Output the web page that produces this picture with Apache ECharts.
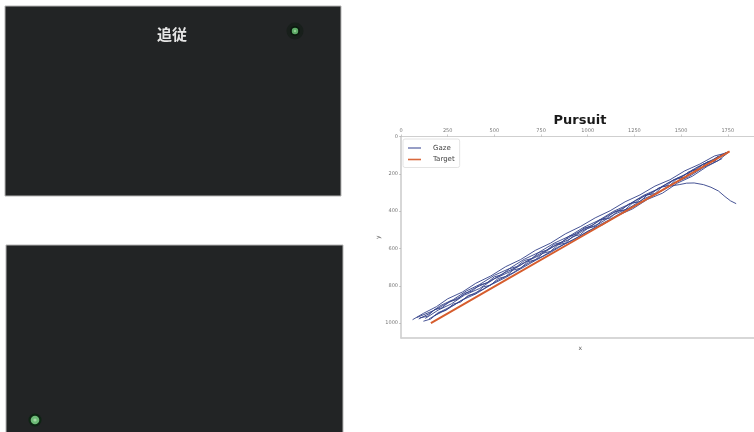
<!DOCTYPE html>
<html>
<head>
<meta charset="utf-8">
<script src="https://cdn.jsdelivr.net/npm/echarts@6/dist/echarts.min.js"></script>
<style>
  html, body { margin: 0; padding: 0; background: #ffffff; }
  #chart { width: 754px; height: 432px; }
</style>
</head>
<body>
<div id="chart"></div>
<script>
// Screen size in pixels (axis extents) and tick labels
const screenWidth = 1920;
const screenHeight = 1080;
const xTicks = [0, 250, 500, 750, 1000, 1250, 1500, 1750];
const yTicks = [0, 200, 400, 600, 800, 1000];

// Target dot trajectory [x, y]
const targetPath = [[160, 1000], [560, 770], [960, 540], [1360, 310], [1760, 80]];

// Recorded gaze passes [x, y]
const gazePass1 = [[62, 982], [120, 948], [190, 912], [250, 870], [330, 833], [400, 787], [480, 748], [560, 698],
  [640, 660], [720, 610], [800, 572], [880, 522], [960, 483], [1040, 436], [1120, 398], [1200, 350], [1280, 313],
  [1360, 266], [1440, 232], [1520, 184], [1600, 148], [1680, 104], [1745, 88]];
const gazePass2 = [[95, 978], [150, 950], [210, 907], [280, 874], [350, 828], [420, 794], [500, 744], [580, 708],
  [660, 658], [740, 620], [820, 572], [900, 535], [980, 486], [1060, 449], [1140, 400], [1220, 364], [1300, 315],
  [1380, 280], [1460, 232], [1540, 196], [1620, 148], [1700, 112], [1750, 82]];
const gazePass3 = [[130, 975], [200, 930], [270, 897], [340, 850], [420, 815], [500, 763], [580, 726], [660, 675],
  [740, 638], [820, 588], [900, 552], [980, 502], [1060, 468], [1140, 418], [1220, 384], [1300, 334], [1380, 300],
  [1460, 250], [1540, 216], [1620, 166], [1700, 128], [1755, 84]];
const gazePass4 = [[150, 978], [220, 935], [290, 900], [360, 856], [440, 818], [520, 770], [600, 730], [680, 680],
  [760, 641], [840, 593], [920, 556], [1000, 508], [1080, 473], [1160, 424], [1240, 388], [1320, 337], [1400, 304],
  [1480, 250], [1560, 213], [1640, 160], [1720, 118]];
const gazePass5 = [[85, 970], [170, 935], [240, 898], [310, 863], [390, 815], [470, 779], [550, 732], [630, 696],
  [710, 648], [790, 603], [870, 560], [950, 511], [1030, 472], [1110, 423], [1190, 383], [1270, 336], [1350, 296],
  [1430, 249], [1510, 210], [1590, 162], [1670, 124], [1740, 86]];
const gazePass6 = [[180, 960], [250, 925], [320, 880], [400, 844], [480, 796], [560, 756], [640, 710], [720, 664],
  [800, 622], [880, 574], [960, 533], [1040, 486], [1120, 444], [1200, 397], [1280, 356], [1360, 312], [1440, 266],
  [1490, 258], [1530, 250], [1570, 249], [1620, 258], [1660, 272], [1700, 292], [1735, 322], [1765, 345], [1795, 360]];
const gazePass7 = [[100, 972], [140, 964], [180, 928], [220, 918], [260, 884], [300, 874], [340, 840], [380, 829],
  [420, 796], [460, 785], [500, 752], [540, 741], [580, 709], [620, 697], [660, 665], [700, 654], [740, 621],
  [780, 610], [820, 578], [860, 567], [900, 534], [940, 523], [980, 491], [1020, 480], [1060, 448], [1100, 437],
  [1140, 405], [1180, 394], [1220, 362], [1260, 351], [1300, 319], [1340, 308], [1380, 276], [1420, 265],
  [1460, 233], [1500, 222], [1540, 190], [1580, 179], [1620, 147], [1660, 136], [1700, 104]];
const gazePass8 = [[120, 990], [160, 978], [200, 943], [240, 932], [280, 898], [320, 887], [360, 852], [400, 842],
  [440, 806], [480, 797], [520, 761], [560, 751], [600, 716], [640, 706], [680, 671], [720, 661], [760, 626],
  [800, 616], [840, 581], [880, 571], [920, 536], [960, 526], [1000, 491], [1040, 482], [1080, 446], [1120, 437],
  [1160, 401], [1200, 393], [1240, 357], [1280, 349], [1320, 312], [1360, 306], [1400, 268], [1440, 262],
  [1480, 224], [1520, 219], [1560, 180], [1600, 176], [1640, 136], [1680, 133], [1720, 94]];
const gazePasses = [gazePass1, gazePass2, gazePass3, gazePass4, gazePass5, gazePass6, gazePass7, gazePass8];

const gazeColor = '#33418a';
const targetColor = '#d65d2e';
const axisGray = '#cfcfcf';
const labelGray = '#777777';
const plainNumber = v => String(v);

const chart = echarts.init(document.getElementById('chart'), null, { renderer: 'canvas' });

const gazeSeries = gazePasses.map(pass => ({
  type: 'line',
  name: 'Gaze',
  data: pass,
  symbol: 'none',
  silent: true,
  z: 3,
  itemStyle: { color: gazeColor },
  lineStyle: { color: gazeColor, width: 1, opacity: 0.9 }
}));

const option = {
  animation: false,
  backgroundColor: '#ffffff',
  title: {
    text: 'Pursuit',
    left: 580,
    top: 114,
    textAlign: 'center',
    padding: 0,
    textStyle: { fontFamily: 'DejaVu Sans', fontWeight: 'bold', fontSize: 13, color: '#1a1a1a' }
  },
  legend: {
    data: [
      { name: 'Gaze', icon: 'rect', itemStyle: { color: '#7d86b8' } },
      { name: 'Target', icon: 'rect', itemStyle: { color: '#d9683c' } }
    ],
    left: 403,
    top: 139,
    orient: 'vertical',
    itemWidth: 13,
    itemHeight: 1.6,
    itemGap: 4.5,
    padding: [5.5, 5, 4.5, 5],
    backgroundColor: '#ffffff',
    borderColor: '#dddddd',
    borderWidth: 0.8,
    borderRadius: 2,
    textStyle: { fontFamily: 'DejaVu Sans', fontSize: 7, color: '#444444', padding: [0, 0, 0, 7] }
  },
  grid: {
    left: 401,
    top: 136.5,
    width: 358.5,
    height: 201.5,
    show: true,
    borderColor: '#dddddd',
    borderWidth: 1,
    outerBoundsMode: 'none',
    containLabel: false
  },
  xAxis: [
    {
      type: 'value',
      position: 'top',
      min: 0,
      max: screenWidth,
      splitLine: { show: false },
      axisLine: { show: true, lineStyle: { color: axisGray, width: 1.2 } },
      axisTick: { show: true, length: 2, customValues: xTicks, lineStyle: { color: '#aaaaaa', width: 0.6 } },
      axisLabel: { customValues: xTicks, formatter: plainNumber, margin: 3, fontSize: 5, color: labelGray, fontFamily: 'DejaVu Sans' }
    },
    {
      type: 'value',
      position: 'bottom',
      min: 0,
      max: screenWidth,
      name: 'x',
      nameLocation: 'middle',
      nameGap: 7,
      nameTextStyle: { fontSize: 6, color: '#555555', fontFamily: 'DejaVu Sans' },
      splitLine: { show: false },
      axisLine: { show: true, lineStyle: { color: axisGray, width: 1.5 } },
      axisTick: { show: false },
      axisLabel: { show: false }
    }
  ],
  yAxis: {
    type: 'value',
    inverse: true,
    min: 0,
    max: screenHeight,
    name: 'y',
    nameLocation: 'middle',
    nameGap: 15,
    nameRotate: 90,
    nameTextStyle: { fontSize: 6, color: '#555555', fontFamily: 'DejaVu Sans' },
    splitLine: { show: false },
    axisLine: { show: true, lineStyle: { color: axisGray, width: 1.5 } },
    axisTick: { show: true, length: 2, customValues: yTicks, lineStyle: { color: '#aaaaaa', width: 0.6 } },
    axisLabel: { customValues: yTicks, formatter: plainNumber, margin: 3, fontSize: 5, color: labelGray, fontFamily: 'DejaVu Sans' }
  },
  series: gazeSeries.concat([{
    type: 'line',
    name: 'Target',
    data: targetPath,
    symbol: 'none',
    silent: true,
    z: 4,
    itemStyle: { color: targetColor },
    lineStyle: { color: targetColor, width: 2 }
  }]),
  graphic: [
    // Stimulus screen: instruction frame with the target dot
    {
      type: 'rect',
      shape: { x: 5, y: 6, width: 336, height: 190 },
      style: { fill: '#222425', stroke: '#b5b5b5', lineWidth: 1 }
    },
    {
      type: 'text',
      x: 172, y: 34,
      style: {
        text: '追従', fill: '#e6e6e6',
        font: 'bold 15px "Noto Sans CJK JP"',
        align: 'center', verticalAlign: 'middle'
      }
    },
    { type: 'circle', shape: { cx: 295, cy: 31, r: 8.5 }, style: { fill: '#181f1b' } },
    { type: 'circle', shape: { cx: 295, cy: 31, r: 5 }, style: { fill: '#0a1a0e' } },
    { type: 'circle', shape: { cx: 295, cy: 31, r: 3.2 }, style: { fill: '#5daa66' } },
    { type: 'circle', shape: { cx: 295, cy: 31, r: 1.2 }, style: { fill: '#8fcf93' } },

    // Stimulus screen: dot at the starting position
    {
      type: 'rect',
      shape: { x: 6, y: 245, width: 337, height: 200 },
      style: { fill: '#222425', stroke: '#b5b5b5', lineWidth: 1 }
    },
    { type: 'circle', shape: { cx: 35, cy: 420, r: 6.5 }, style: { fill: '#0d2413' } },
    { type: 'circle', shape: { cx: 35, cy: 420, r: 4.3 }, style: { fill: '#6cba76' } },
    { type: 'circle', shape: { cx: 35, cy: 420, r: 1.6 }, style: { fill: '#a3d8a6' } }
  ]
};

chart.setOption(option);
</script>
</body>
</html>
